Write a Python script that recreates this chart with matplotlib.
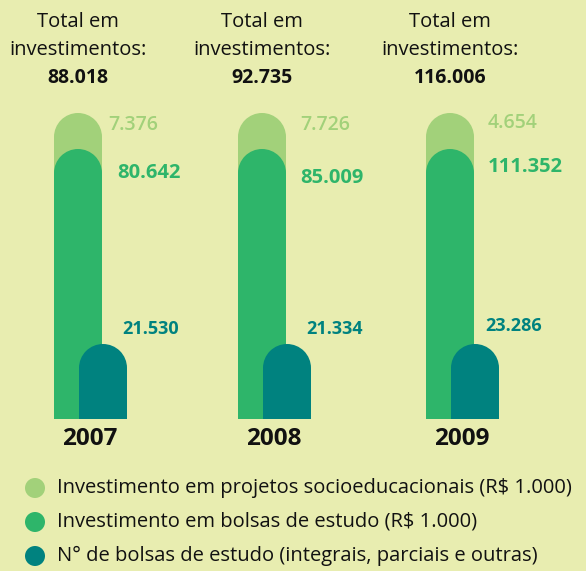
import matplotlib
matplotlib.use("Agg")
import matplotlib.pyplot as plt
from matplotlib.patches import Wedge, Rectangle, Circle

# ---- data ----
years = ["2007", "2008", "2009"]
totals = [88018, 92735, 116006]
projetos = [7376, 7726, 4654]
bolsas_invest = [80642, 85009, 111352]
n_bolsas = [21530, 21334, 23286]
legend_labels = [
    "Investimento em projetos socioeducacionais (R$ 1.000)",
    "Investimento em bolsas de estudo (R$ 1.000)",
    "N° de bolsas de estudo (integrais, parciais e outras)",
]

BG = "#E8EDB0"
C_LIGHT = "#A2D17A"
C_MID = "#2EB56A"
C_TEAL = "#00827F"

def fmt(v):
    return f"{v:,}".replace(",", ".")

plt.rcParams["font.family"] = ["Open Sans", "DejaVu Sans"]

fig = plt.figure(figsize=(5.86, 5.71), dpi=100, facecolor=BG)
ax = fig.add_axes([0, 0, 1, 1])
ax.set_facecolor(BG)
ax.set_xlim(0, 586)
ax.set_ylim(571, 0)
ax.axis("off")

centers = [78, 262, 450]
W = 48
R = W / 2
base = 419
tops = {"light": 113, "mid": 149, "teal": 344}
teal_off = 25

def rounded_bar(cx, top, color, z):
    ax.add_patch(Rectangle((cx - R, top + R), W, base - (top + R), facecolor=color,
                           edgecolor="none", zorder=z))
    ax.add_patch(Wedge((cx, top + R), R, 180, 360, facecolor=color,
                       edgecolor="none", zorder=z))

label_pos = [
    dict(l=(108, 125), m=(117, 173), t=(122, 329), y=90),
    dict(l=(300, 125), m=(300, 178), t=(306, 329), y=274),
    dict(l=(488, 123), m=(488, 167), t=(485, 326), y=462),
]

for i, cx in enumerate(centers):
    rounded_bar(cx, tops["light"], C_LIGHT, 1)
    rounded_bar(cx, tops["mid"], C_MID, 2)
    rounded_bar(cx + teal_off, tops["teal"], C_TEAL, 3)
    lp = label_pos[i]
    ax.text(lp["l"][0], lp["l"][1], fmt(projetos[i]), color=C_LIGHT, fontsize=14,
            fontweight="semibold", va="center", ha="left")
    ax.text(lp["m"][0], lp["m"][1], fmt(bolsas_invest[i]), color=C_MID, fontsize=14.5,
            fontweight="bold", va="center", ha="left")
    ax.text(lp["t"][0], lp["t"][1], fmt(n_bolsas[i]), color=C_TEAL, fontsize=13,
            fontweight="bold", va="center", ha="left")
    ax.text(lp["y"], 439, years[i], color="#111111", fontsize=17.5, fontweight="bold",
            ha="center", va="center")
    ax.text(cx, 22, "Total em", color="#111111", fontsize=14.5, ha="center", va="center")
    ax.text(cx, 50, "investimentos:", color="#111111", fontsize=14.5, ha="center", va="center")
    ax.text(cx, 78, fmt(totals[i]), color="#111111", fontsize=14, fontweight="bold",
            ha="center", va="center")

for j, (lab, col) in enumerate(zip(legend_labels, [C_LIGHT, C_MID, C_TEAL])):
    y = 488 + j * 34
    ax.add_patch(Circle((35, y), 10, facecolor=col, edgecolor="none"))
    ax.text(57, y, lab, color="#111111", fontsize=14.5, ha="left", va="center")

fig.savefig("out.png", dpi=100, facecolor=BG)
